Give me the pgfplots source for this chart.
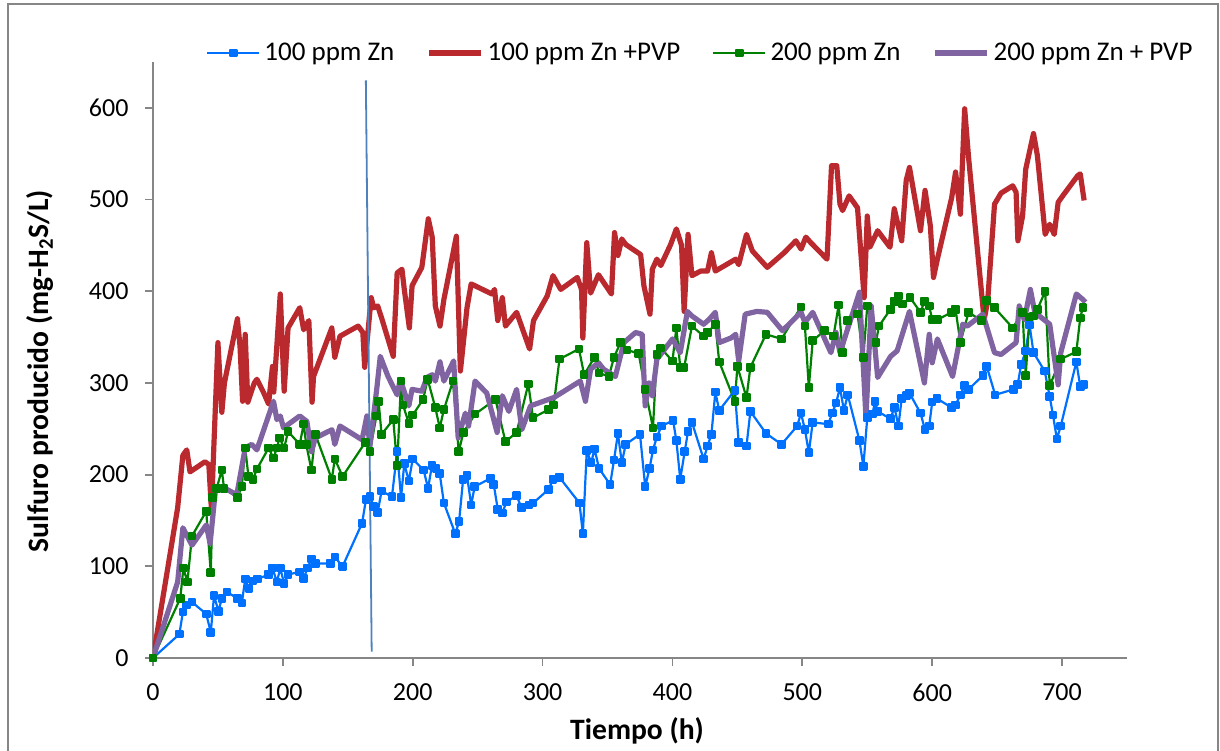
\documentclass[border=0pt]{standalone}
\usepackage{fontspec}
\setmainfont{Carlito}
\usepackage{pgfplots}
\pgfplotsset{compat=1.18}
\definecolor{cblue}{RGB}{0,112,255}
\definecolor{cred}{RGB}{185,41,46}
\definecolor{cgreen}{RGB}{0,128,0}
\definecolor{cpurple}{RGB}{128,100,162}
\definecolor{vline}{RGB}{79,129,189}
\definecolor{axgray}{RGB}{134,134,134}
\begin{document}
\begin{tikzpicture}[font=\fontsize{13}{15.6}\selectfont]
\useasboundingbox (0pt,0pt) rectangle (610pt,375pt);
\draw[axgray, line width=0.8pt] (4pt,-2pt) -- (4pt,373pt) -- (609pt,373pt) -- (609pt,-2pt);
\begin{axis}[
  at={(76.5pt,46pt)}, anchor=south west,
  scale only axis, width=487pt, height=298pt,
  xmin=0, xmax=750, ymin=0, ymax=650,
  axis lines=left,
  axis line style={-, draw=axgray, line width=0.9pt},
  xtick={0,100,...,700}, ytick={0,100,...,600},
  tick style={draw=axgray, line width=0.9pt},
  tick align=outside, major tick length=4pt,
  /pgf/number format/assume math mode=true,
  xticklabel style={yshift=-5.2pt},
  yticklabel style={xshift=-4.7pt},
  xlabel={Tiempo (h)},
  ylabel={Sulfuro producido (mg-H\textsubscript{2}S/L)},
  xlabel style={at={(axis description cs:0.497,-0.1225)}, anchor=center, font=\fontsize{14.8}{17.8}\selectfont\bfseries},
  ylabel style={at={(axis description cs:-0.116,0.4815)}, anchor=center, font=\fontsize{14.8}{17.8}\selectfont\bfseries},
  legend style={at={(axis description cs:0.563,1.015)}, anchor=center,
    draw=none, fill=none, legend columns=4, inner sep=0pt,
    font=\fontsize{13.5}{16}\selectfont,
    /tikz/every even column/.append style={column sep=14pt}},
  legend image code/.code={\draw[mark repeat=2,mark phase=2,#1] plot coordinates {(0pt,0pt) (13pt,0pt) (26pt,0pt)};},
  line join=round,
]
\addplot[cblue, line width=1.1pt, mark=square*, mark size=1.6pt, mark options={solid}] coordinates {
(0,0) (20.3,26) (23,50) (26,58) (30,61) (41,48) (44.5,28) (47,68) (50.4,51) (53,65) (57,72) (65,65) (68.4,60) (71,86) (74,76) (77,84) (80.4,86) (89,91) (92,98) (95.4,83) (98,98) (101,81) (104,91) (113,94) (116,87) (119,98) (122,108) (125,103) (136.5,103) (140,110) (146,100) (161,147) (164,173) (167,176) (170,165) (173,159) (176,182) (184,176) (188,225) (191,175) (193.5,212) (197,193) (200,217) (208.4,205) (211.8,185) (214.8,210) (218,207) (220.8,201) (224,169) (232.8,135.5) (235.7,149) (238.8,195) (241.8,199) (245,167) (247.7,187) (260,196) (262.4,189) (265.5,162) (269,158) (272,170) (280,177) (283.7,164) (289.4,167) (292.7,169) (304.7,184) (308,195) (313,197) (328.4,169) (331,135.5) (334,226) (337.4,213) (340,228) (343.4,207) (352,189) (355,216) (358,245) (361,213) (364,233) (375,244) (379,187) (382.4,207) (385,227) (388,241) (391.5,253) (400.5,259) (403,237) (406,195) (409.4,225) (412,247) (415,257) (424,217) (427,231) (430,244) (433,290) (436,270) (448,292) (451,235) (457,231) (460,269) (472,245) (484,233) (496,253) (499,267) (502,249) (505,224) (508,257) (520,255) (523,267) (526,278) (529,295) (532,270) (535,287) (544,237) (547,209) (550,262) (554,266) (556,280) (558,269) (567.7,261) (571,273) (574,253) (576.5,283) (580,286) (582.5,289) (591,267) (594.5,249) (597.7,253) (600,279) (603.7,283) (615,273) (618,276) (621.7,287) (625,297) (628,293) (639,308) (642,318) (648.5,287) (662.7,293) (665.8,298) (668.5,320) (672,335) (675,363) (678,333) (686.6,313) (690.5,285) (693,265) (696,239) (699,253) (711,323) (714,296) (717,298)
};
\addlegendentry{100 ppm Zn}
\addplot[cred, line width=2.6pt, mark=none] coordinates {
(0,0) (19,164) (23,221) (26,227) (28.5,203) (40,214) (43,211) (45,162) (47,236) (50,344) (53,268) (55,300) (65,370) (67,340) (69,280) (71,353) (73,279) (78,300) (80,304) (85,290) (89,277) (92,318) (93,290) (98,397) (101,291) (104,360) (113,382) (116,358) (120,368) (122.5,279) (123.6,307) (137.7,360) (140,328) (144,351) (158,362) (161.6,355) (163,317) (168,393) (170,382) (173,384) (176,371) (185,329) (188,420) (191.7,424) (193.5,402) (197.4,360) (199.5,406) (207,426) (212,479) (215,459) (217.4,384) (221,362) (224,391) (233.6,460) (236.7,313) (241.8,382) (245,408) (261,397) (263,402) (265.5,368) (269,393) (271.4,362) (280,377) (290,337) (293,368) (303.6,395) (308,417) (314,402) (326.7,415) (330,402) (331,349) (334,453) (337,398) (343,418) (353,397) (355.4,464) (358,439) (361,457) (364,451) (375.5,440) (378,406) (382.7,375) (384.5,424) (388,435) (391,428) (398.6,451) (403,468) (407,450) (409,378) (412,462) (415,417) (421.7,422) (427,422) (430,442) (433,422) (448.7,435) (451,429) (457,462) (461.5,444) (473,426) (486,442) (495,455) (499,446) (502.7,459) (506.5,453) (519,435) (522.5,537) (526.5,537) (529,495) (531,488) (536,504) (542.5,491) (547.6,393) (550,482) (552,448) (558,466) (567.5,448) (570.8,490) (576.5,455) (580,521) (582.5,535) (591,466) (594.5,510) (598.6,471) (601,415) (604,435) (615,502) (618,530) (621.7,484) (625,599) (628,546) (640,369) (642.7,389) (648,495) (653,507) (662,515) (664.6,508) (666,455) (669.6,482) (672,533) (678,572) (681,548) (687,462) (690.5,473) (694,462) (697,497) (700.5,504) (712,526) (714,528) (717,499)
};
\addlegendentry{100 ppm Zn +PVP}
\addplot[cgreen, line width=1.1pt, mark=square*, mark size=1.6pt, mark options={solid}] coordinates {
(0,0) (21,65) (23.4,98) (26.5,83) (30,133) (41,160) (44.5,93) (46,175) (49,185) (53,205) (54.7,185) (65,175) (68.4,187) (71,229) (73.5,198) (77,195) (80,206) (89,229) (92.8,218) (95.4,229) (97.4,240) (101,229) (104,247) (113,233) (116,255) (118,233) (122,205) (125,244) (137.7,195) (140,217) (146,198) (163.4,235) (167,225) (172,264) (173.7,280) (176,244) (185,260) (188,210) (191,302) (192.5,276) (197,256) (200,265) (208,282) (211.5,304) (217.4,273) (220.8,251) (224,271) (231,302) (235.4,225) (239,246) (248,266) (263.7,282) (271.4,236) (280,246) (289,299) (292.6,262) (304.7,271) (308.6,276) (313,326) (328,337) (332,309) (340,328) (343.4,311) (351,307) (355,328) (360,344) (365,336) (374,332) (379,293) (385,251) (388,331) (391,338) (400,324) (403,360) (406,317) (409,317) (415,362) (424,351) (427,355) (433,364) (436,323) (448,280) (450,318) (457,284) (460,317) (472,353) (484,348) (499,383) (502,362) (505,295) (508,346) (517,357) (524,351) (528,385) (531,333) (535,368) (542.5,375) (547,328) (550,384) (556.6,344) (559,362) (567.7,380) (571,389) (574,395) (577,386) (583,393) (591,377) (594,389) (597.7,384) (600,369) (604,369) (615,377) (618,380) (621.7,344) (628,377) (638,368) (642,390) (648,382) (662,360) (669.6,377) (672,308) (675,372) (678,373) (681,380) (687,400) (690.5,297) (699,326) (711,334) (714,371) (716,382)
};
\addlegendentry{200 ppm Zn}
\addplot[cpurple, line width=2.6pt, mark=none] coordinates {
(0,0) (19,83) (23,142) (30,123) (41,145) (44,125) (48,182) (55.5,185) (64.5,178) (71,229) (76,233) (80,227) (92.8,280) (95.4,260) (98,264) (100.5,251) (113,264) (118.5,258) (122,225) (125,240) (137.8,249) (140,233) (144,253) (161,238) (164.7,264) (167,231) (172.5,296) (175,329) (181,307) (188,287) (190.4,304) (197,275) (199.5,293) (207,291) (211,306) (215,309) (217.4,302) (221,323) (224,302) (231.5,324) (235,240) (240.5,267) (243,253) (248,302) (257,289) (265,246) (269,286) (274,269) (280,293) (284,249) (290.7,275) (308.6,284) (329,302) (333,280) (337,315) (343,322) (347,315) (356,307) (362.6,344) (371.6,355) (376.7,353) (379,275) (382,300) (384.5,286) (388,326) (392,333) (400,348) (406,333) (411.5,378) (415,373) (424,364) (428,369) (433,377) (436,344) (445,349) (448.7,353) (451,324) (456,375) (465,378) (473,377) (484.7,357) (499,377) (502,366) (508,377) (522,333) (526,355) (529,333) (544,399) (549,262) (553,384) (558,306) (568,329) (573,335) (582.5,378) (594,300) (597.7,353) (600,322) (604,348) (615.7,307) (623.5,364) (627,362) (639,375) (648,333) (653,331) (664.6,344) (667,384) (671,369) (675.6,402) (679,377) (690.5,364) (697,298) (699,333) (711,397) (716,391) (718,388)
};
\addlegendentry{200 ppm Zn + PVP}
\addplot[vline, line width=0.9pt, forget plot] coordinates {(163.9,630) (168.4,7)};
\end{axis}
\end{tikzpicture}
\end{document}
